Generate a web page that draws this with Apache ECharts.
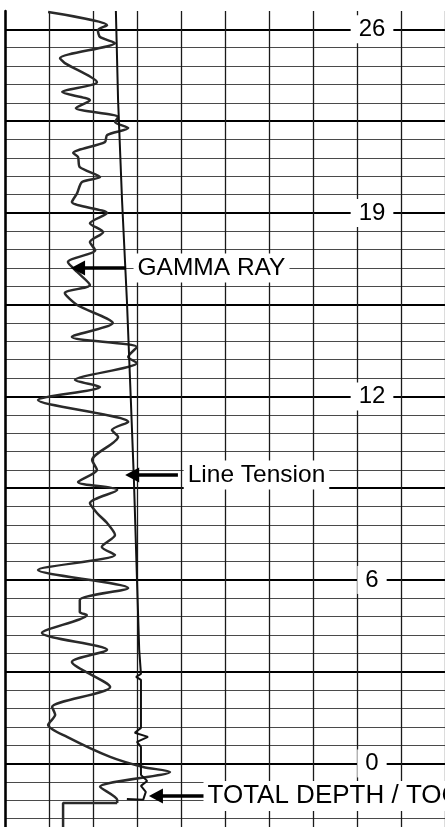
<!DOCTYPE html>
<html>
<head>
<meta charset="utf-8">
<script src="https://cdn.jsdelivr.net/npm/echarts@6/dist/echarts.min.js"></script>
<style>
  html, body { margin: 0; padding: 0; background: #fff; }
  #chart { width: 445px; height: 827px; }
</style>
</head>
<body>
<div id="chart"></div>
<script>
// depth in chart divisions (0 = labelled "0"), value in grid columns
const gammaDepth = [40.94, 40.23, 39.96, 39.58, 39.25, 38.43, 38.16, 37.12, 36.58, 36.14,
  35.71, 35.22, 34.95, 34.62, 34.24, 33.86, 33.26, 33.04, 32.49, 31.95,
  31.68, 31.08, 30.59, 29.99, 29.44, 28.95, 28.41, 27.97, 27.32, 26.78,
  26.07, 25.63, 24.98, 24.0, 23.24, 22.69, 22.15, 21.82, 20.89, 20.51,
  19.8, 18.61, 18.17, 17.79, 16.54, 15.99, 15.34, 14.9, 14.19, 13.65,
  13.1, 12.45, 11.8, 11.36, 10.54, 9.56, 8.91, 8.26, 8.09, 7.11,
  6.19, 5.53, 4.17, 3.08, 2.65, 2.1, 1.45, 0.36, -0.19, -0.46,
  -1.27, -1.98, -2.15];
const gammaValue = [0.98, 2.32, 2.11, 2.16, 2.5, 1.25, 1.36, 2.09, 1.3, 1.93,
  1.61, 2.57, 2.5, 2.8, 2.32, 2.27, 1.55, 1.66, 1.7, 2.16,
  1.75, 1.64, 1.52, 2.32, 1.93, 2.23, 1.93, 2.05, 1.43, 1.64,
  1.93, 1.36, 1.64, 2.45, 1.52, 3.0, 2.8, 3.0, 1.59, 2.16,
  0.75, 2.8, 2.43, 2.57, 1.98, 2.09, 1.66, 2.55, 1.93, 2.09,
  2.32, 2.5, 2.2, 2.5, 0.75, 2.8, 1.7, 1.7, 1.86, 0.84,
  2.32, 1.52, 2.39, 1.07, 1.14, 0.98, 1.41, 2.39, 3.14, 3.75,
  2.16, 2.55, 2.55];
// gamma ray below total depth (baseline)
const tdDepth = [-2.15, -2.15, -10];
const tdValue = [2.55, 1.32, 1.32];

const tensionDepth = [41, 36.14, 30.69, 25.25, 19.8, 15.44, 10.0, 6.19, 4.88, 4.72,
  4.55, 1.94, 1.67, 1.45, 1.18, 0.9, -0.62, -0.95, -1.22, -1.55, -1.98, -1.93];
const tensionValue = [2.52, 2.57, 2.66, 2.77, 2.86, 2.93, 3.0, 3.05, 3.09, 2.98,
  3.09, 3.09, 2.95, 3.25, 3.0, 3.09, 3.09, 3.23, 3.09, 3.2, 3.14, 2.77];

const depthTicks = [0, 10, 20, 30, 40];
const depthLabels = ['0', '6', '12', '19', '26'];

const notes = ['GAMMA RAY', 'Line Tension', 'TOTAL DEPTH / TOC'];
const noteDepth = [27.0, 15.72, -1.77];
const noteTip = [1.66, 2.89, 3.43];
const noteTail = [2.75, 3.93, 4.55];
const noteText = [2.91, 4.05, 4.5];
const noteSize = [24.5, 24.5, 26];

const zip = (xs, ys) => xs.map((v, i) => [v, ys[i]]);

let myChart = echarts.init(document.getElementById('chart'));
let option = {
  animation: false,
  backgroundColor: '#fff',
  // grid runs past the bottom edge so the depth scale keeps its spacing
  grid: { left: 5, width: 440, top: 11, height: 936, outerBoundsMode: 'none', containLabel: false },
  xAxis: {
    type: 'value', min: 0, max: 10, interval: 1,
    axisLine: { show: false }, axisTick: { show: false }, axisLabel: { show: false },
    splitLine: { show: true, lineStyle: { color: '#1a1a1a', width: 1.3 } }
  },
  yAxis: [
    {
      type: 'value', position: 'left', min: -10, max: 41, interval: 1,
      axisLine: { show: true, lineStyle: { color: '#000', width: 2.5 } },
      axisTick: { show: false }, axisLabel: { show: false },
      splitLine: { show: true, showMaxLine: false, lineStyle: { color: '#4a4a4a', width: 1 } }
    },
    {
      type: 'value', position: 'left', min: -10, max: 41, interval: 5,
      axisLine: { show: false }, axisTick: { show: false }, axisLabel: { show: false },
      splitLine: { show: true, showMaxLine: false, lineStyle: { color: '#000', width: 2 } }
    },
    {
      type: 'value', position: 'right', min: -10, max: 41, interval: 10,
      axisLine: { show: false }, axisTick: { show: false }, splitLine: { show: false },
      axisLabel: {
        show: true, inside: true, margin: 73, align: 'center',
        showMaxLabel: false, showMinLabel: false,
        fontFamily: 'Liberation Sans', fontSize: 24, color: '#000',
        backgroundColor: '#fff', padding: [2, 8],
        formatter: v => {
          const i = depthTicks.indexOf(v);
          return i >= 0 ? depthLabels[i] : '';
        }
      }
    }
  ],
  series: [
    {
      name: 'Gamma Ray', type: 'line', data: zip(gammaValue, gammaDepth),
      smooth: 0.25, showSymbol: false, z: 3,
      lineStyle: { color: '#2a2a2a', width: 2.5 }
    },
    {
      name: 'TD', type: 'line', data: zip(tdValue, tdDepth),
      showSymbol: false, z: 3,
      lineStyle: { color: '#2a2a2a', width: 2.5 }
    },
    {
      name: 'Line Tension', type: 'line', data: zip(tensionValue, tensionDepth),
      showSymbol: false, z: 3,
      lineStyle: { color: '#111', width: 2 },
      markLine: {
        silent: true, symbol: ['none', 'triangle'], symbolSize: [15, 14],
        lineStyle: { color: '#000', width: 3.5, type: 'solid' },
        label: { show: false },
        data: notes.map((n, i) => [
          { coord: [noteTail[i], noteDepth[i]] },
          { coord: [noteTip[i], noteDepth[i]] }
        ])
      },
      markPoint: {
        silent: true, symbol: 'circle', symbolSize: 1,
        itemStyle: { color: 'rgba(0,0,0,0)' },
        data: notes.map((n, i) => ({
          name: n, coord: [noteText[i], noteDepth[i]],
          label: {
            show: true, position: 'right', distance: 0, formatter: '{b}',
            fontFamily: 'Liberation Sans', fontSize: noteSize[i], color: '#000',
            backgroundColor: '#fff', padding: [2, 4]
          }
        }))
      }
    }
  ]
};
myChart.setOption(option);
</script>
</body>
</html>
